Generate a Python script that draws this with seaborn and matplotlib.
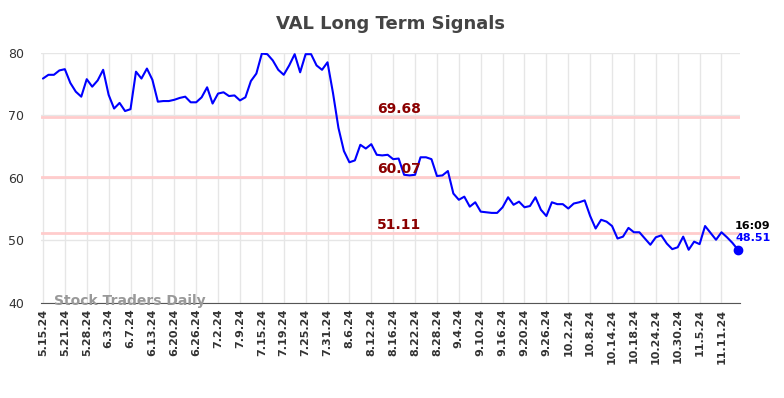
import pandas as pd
import seaborn as sns
import matplotlib.pyplot as plt

# Valeurs (une par séance)
values = [
    75.9, 76.5, 76.5, 77.2, 77.4, 75.2, 73.8, 73.0, 75.8, 74.6,
    75.6, 77.3, 73.3, 71.1, 72.0, 70.7, 71.0, 77.0, 75.9, 77.5,
    75.7, 72.2, 72.3, 72.3, 72.5, 72.8, 73.0, 72.1, 72.1, 72.9,
    74.5, 71.9, 73.5, 73.7, 73.1, 73.2, 72.4, 72.9, 75.5, 76.7,
    79.9, 79.8, 78.8, 77.3, 76.5, 78.0, 79.8, 76.9, 79.8, 79.8,
    78.0, 77.3, 78.5, 73.6, 68.0, 64.3, 62.5, 62.8, 65.3, 64.7,
    65.4, 63.7, 63.6, 63.7, 63.0, 63.1, 60.5, 60.4, 60.5, 63.3,
    63.3, 63.0, 60.3, 60.4, 61.1, 57.5, 56.5, 57.0, 55.4, 56.1,
    54.6, 54.5, 54.4, 54.4, 55.3, 56.9, 55.7, 56.2, 55.3, 55.5,
    56.9, 54.9, 53.9, 56.1, 55.8, 55.8, 55.1, 55.9, 56.1, 56.4,
    53.9, 51.9, 53.3, 53.0, 52.3, 50.3, 50.6, 52.0, 51.3, 51.3,
    50.3, 49.3, 50.5, 50.8, 49.5, 48.6, 48.9, 50.6, 48.5, 49.8,
    49.4, 52.3, 51.2, 50.1, 51.3, 50.5, 49.6, 48.51,
]
tick_labels = [
    '5.15.24', '5.21.24', '5.28.24', '6.3.24', '6.7.24', '6.13.24', '6.20.24', '6.26.24',
    '7.2.24', '7.9.24', '7.15.24', '7.19.24', '7.25.24', '7.31.24', '8.6.24', '8.12.24',
    '8.16.24', '8.22.24', '8.28.24', '9.4.24', '9.10.24', '9.16.24', '9.20.24', '9.26.24',
    '10.2.24', '10.8.24', '10.14.24', '10.18.24', '10.24.24', '10.30.24', '11.5.24', '11.11.24',
]
levels = [69.68, 60.07, 51.11]

df = pd.DataFrame({'idx': range(len(values)), 'val': values})

sns.set_style('white')
fig = plt.figure(figsize=(7.84, 3.98), dpi=100)
ax = fig.add_axes([0.052, 0.239, 0.892, 0.628])

for lv in levels:
    ax.axhline(lv, color='#ffcccc', lw=2, zorder=1)
    ax.text(65, lv + 0.3, f'{lv:.2f}', color='#8b0000', fontsize=10, fontweight='bold',
            ha='center', va='bottom', zorder=4)

sns.lineplot(data=df, x='idx', y='val', color='#0000ff', lw=1.5, ax=ax, zorder=3)
last = len(values) - 1
ax.plot(last, values[-1], 'o', color='#0000ff', ms=6, zorder=5, clip_on=False)
ax.text(last - 0.5, values[-1] + 3.0, '16:09', fontsize=8, fontweight='bold', color='black', va='bottom')
ax.text(last - 0.5, values[-1] + 1.0, f'{values[-1]:.2f}', fontsize=8, fontweight='bold', color='#0000ff', va='bottom')

ax.set_xlim(-0.4, last + 0.4)
ax.set_ylim(40, 80)
ax.set_xticks(range(0, 4 * len(tick_labels), 4))
ax.set_xticklabels(tick_labels, rotation=90, fontsize=8, fontweight='bold', color='#333333')
ax.set_yticks([40, 50, 60, 70, 80])
ax.tick_params(axis='y', labelsize=9, colors='#333333', length=0, pad=12)
ax.tick_params(axis='x', length=0, pad=4)
ax.grid(True, color='#e6e6e6', lw=1, zorder=0)
ax.set_axisbelow(True)
for s in ['left', 'right', 'top']:
    ax.spines[s].set_visible(False)
ax.spines['bottom'].set_color('#555555')
ax.set_xlabel('')
ax.set_ylabel('')

ax.text(2, 40.3, 'Stock Traders Daily', fontsize=10, fontweight='bold', color='#999999', va='center')
ax.set_title('VAL Long Term Signals', fontsize=13, fontweight='bold', color='#444444', pad=17)

plt.savefig('out.png')
